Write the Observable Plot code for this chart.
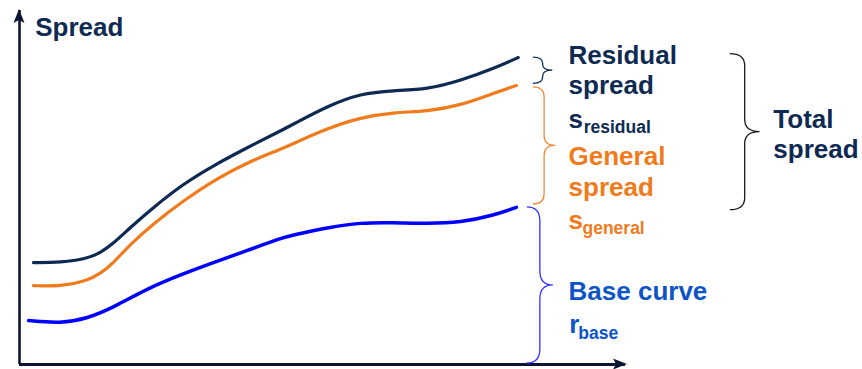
<!DOCTYPE html>
<html><head><meta charset="utf-8">
<script src="https://cdn.jsdelivr.net/npm/d3@7"></script>
<script src="https://cdn.jsdelivr.net/npm/@observablehq/plot@0.6"></script>
<style>html,body{margin:0;padding:0;background:#fff}svg{display:block}</style>
</head><body><div id="chart"></div>
<script>
// Data (abstract units: maturity 0..10, spread 0..10)
const totalX = [0.23,0.68,1.12,1.34,1.55,1.83,2.21,2.71,3.20,3.76,4.31,4.52,5.08,5.63,6.17,6.73,7.28,7.82,8.23];
const totalY = [2.88,2.88,2.99,3.16,3.42,3.87,4.44,5.11,5.62,6.13,6.60,6.79,7.30,7.66,7.74,7.77,8.02,8.36,8.67];
const generalX = [0.23,0.68,1.12,1.34,1.55,1.83,2.21,2.71,3.20,3.76,4.31,4.52,5.08,5.63,6.17,6.73,7.28,7.82,8.20];
const generalY = [2.23,2.20,2.37,2.57,2.87,3.40,3.98,4.63,5.20,5.71,6.08,6.24,6.67,6.98,7.12,7.15,7.32,7.66,7.88];
const baseX = [0.15,0.68,1.12,1.55,2.11,2.71,3.20,3.76,4.31,4.52,5.08,5.63,6.17,6.73,7.28,7.82,8.20];
const baseY = [1.24,1.16,1.30,1.61,2.15,2.57,2.88,3.22,3.57,3.66,3.87,4.01,4.01,3.98,4.01,4.21,4.44];

const axisTitle = "Spread";
const residualLabel = "Residual\nspread";
const generalLabel = "General\nspread";
const baseLabel = "Base curve";
const totalLabel = "Total\nspread";

const NAVY = "#0e2a52", ORANGE = "#ef7b1d", BLUE = "#0000ff", BLUE_TEXT = "#0c55c8";
const FONT = "'Liberation Sans', Arial, sans-serif";

const toRows = (xs, ys) => xs.map((x, i) => ({x, y: ys[i]}));
const totalRows = toRows(totalX, totalY);
const generalRows = toRows(generalX, generalY);
const baseRows = toRows(baseX, baseY);

const xDomain = [0, 10], xRange = [19, 625];
const yDomain = [0, 10], yRange = [364, 10];
const Xs = d3.scaleLinear(xDomain, xRange);
const Ys = d3.scaleLinear(yDomain, yRange);

function bracePath(x0, x1, ya, yb, r) {
  const xm = (x0 + x1) / 2, ym = (ya + yb) / 2;
  r = Math.min(r, (yb - ya) / 4);
  const p = d3.path();
  p.moveTo(x0, ya);
  p.quadraticCurveTo(xm, ya, xm, ya + r);
  p.lineTo(xm, ym - r);
  p.quadraticCurveTo(xm, ym, x1, ym);
  p.quadraticCurveTo(xm, ym, xm, ym + r);
  p.lineTo(xm, yb - r);
  p.quadraticCurveTo(xm, yb, x0, yb);
  return p.toString();
}

const last = a => a[a.length - 1];

const decor = (index, scales) => {
  const sx = typeof scales.x === "function" ? scales.x : Xs;
  const sy = typeof scales.y === "function" ? scales.y : Ys;
  const g = d3.create("svg:g");
  const ox = sx(0), oy = sy(0), tx = sx(xDomain[1]), ty = sy(yDomain[1]);
  g.append("path").attr("fill", "#0a1633")
    .attr("d", `M${ox},${ty-1}L${ox-5.5},${ty+13}L${ox},${ty+10}L${ox+5.5},${ty+13}Z`);
  g.append("path").attr("fill", "#0a1633")
    .attr("d", `M${tx+2},${oy}L${tx-12},${oy-5.5}L${tx-9},${oy}L${tx-12},${oy+5.5}Z`);
  const braces = [
    {x0: 8.48, x1: 8.80, a: last(totalY), b: last(generalY) + 0.05, r: 6, c: NAVY},
    {x0: 8.48, x1: 8.85, a: last(generalY) - 0.05, b: last(baseY) + 0.08, r: 10, c: "#f08a3c"},
    {x0: 8.38, x1: 8.81, a: last(baseY), b: 0.03, r: 14, c: "#3030ff"},
    {x0: 11.73, x1: 12.22, a: last(totalY) + 0.1, b: last(baseY) - 0.08, r: 12, c: "#1a1a1a"}
  ];
  for (const b of braces) {
    g.append("path").attr("fill", "none").attr("stroke", b.c).attr("stroke-width", 1.3)
      .attr("d", bracePath(sx(b.x0), sx(b.x1), sy(b.a), sy(b.b), b.r));
  }
  return g.node();
};

const big = {fontFamily: FONT, fontWeight: "bold", fontSize: 26, textAnchor: "start", lineAnchor: "bottom", lineHeight: 1.18};
const sub = {fontFamily: FONT, fontWeight: "bold", fontSize: 17.5, textAnchor: "start", lineAnchor: "bottom"};

const chart = Plot.plot({
  width: 862, height: 369,
  margin: 0,
  x: {domain: xDomain, range: xRange, axis: null},
  y: {domain: yDomain, range: yRange, axis: null},
  style: {background: "#fff", fontFamily: FONT},
  marks: [
    Plot.ruleX([0], {y1: 0, y2: yDomain[1], stroke: "#0a1633", strokeWidth: 2.6}),
    Plot.ruleY([0], {x1: 0, x2: xDomain[1], stroke: "#0a1633", strokeWidth: 2.8}),
    Plot.line(baseRows, {x: "x", y: "y", stroke: BLUE, strokeWidth: 3.5, curve: "basis"}),
    Plot.line(generalRows, {x: "x", y: "y", stroke: ORANGE, strokeWidth: 3.2, curve: "basis"}),
    Plot.line(totalRows, {x: "x", y: "y", stroke: NAVY, strokeWidth: 3.2, curve: "basis"}),
    decor,
    Plot.text([axisTitle], {...big, x: 0.26, y: 9.29, text: d => d, fill: NAVY}),
    Plot.text([residualLabel], {...big, x: 9.06, y: 7.63, text: d => d, fill: NAVY}),
    Plot.text(["s"], {...big, x: 9.06, y: 6.69, text: d => d, fill: NAVY}),
    Plot.text(["residual"], {...sub, x: 9.31, y: 6.55, text: d => d, fill: NAVY}),
    Plot.text([generalLabel], {...big, x: 9.06, y: 4.77, text: d => d, fill: ORANGE}),
    Plot.text(["s"], {...big, x: 9.06, y: 3.84, text: d => d, fill: ORANGE}),
    Plot.text(["general"], {...sub, x: 9.29, y: 3.70, text: d => d, fill: ORANGE}),
    Plot.text([baseLabel], {...big, x: 9.06, y: 1.81, text: d => d, fill: BLUE_TEXT}),
    Plot.text(["r"], {...big, x: 9.07, y: 0.88, text: d => d, fill: BLUE_TEXT}),
    Plot.text(["base"], {...sub, x: 9.22, y: 0.73, text: d => d, fill: BLUE_TEXT}),
    Plot.text([totalLabel], {...big, x: 12.44, y: 5.82, text: d => d, fill: NAVY})
  ]
});
document.getElementById("chart").append(chart);
</script>
</body></html>
